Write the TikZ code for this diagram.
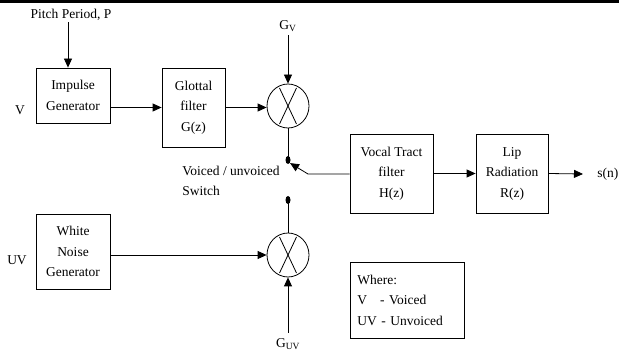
\documentclass[tikz,border=0pt]{standalone}
\usepackage{fontspec}
\setmainfont{Liberation Serif}
\usetikzlibrary{arrows.meta}
\usetikzlibrary{shapes.geometric}

\tikzset{
  arr/.style={-{Triangle[length=9pt,width=8pt]}},
  blk/.style={draw, align=center, inner sep=0pt},
  mixer/.style={draw, ellipse, minimum width=42pt, minimum height=44pt, inner sep=0pt,
    path picture={
      \draw (path picture bounding box.center) ++(-8.5,-18) -- ++(17,36);
      \draw (path picture bounding box.center) ++(8.5,-18) -- ++(-17,36);
    }},
  swdot/.style={fill, ellipse, minimum width=5pt, minimum height=8pt, inner sep=0pt},
  lbl/.style={inner sep=1pt}
}

\begin{document}
\begin{tikzpicture}[x=1pt, y=-1pt, line width=0.8pt,
  every node/.style={font=\fontsize{13.5}{20.5}\selectfont}]
  \useasboundingbox (0,0) rectangle (619,358);

  \draw[line width=3pt] (0,1.5) -- (619,1.5);

  % voiced branch
  \node[lbl] (pitch) at (71,15) {Pitch Period, P};
  \node[blk, minimum width=74pt, minimum height=55pt] (impulse) at (73,95.5) {Impulse\\Generator};
  \node[lbl] (vlbl) at (20,110) {V};
  \node[blk, minimum width=63pt, minimum height=79pt] (glottal) at (193.5,107.5) {Glottal\\filter\\G(z)};
  \node[mixer] (mixv) at (288,106) {};
  \node[lbl] (gv) at (288,26) {G\textsubscript{V}};

  % unvoiced branch
  \node[blk, minimum width=74pt, minimum height=75pt] (noise) at (73,251.5) {White\\Noise\\Generator};
  \node[lbl] (uvlbl) at (17,260) {UV};
  \node[mixer] (mixuv) at (288,255) {};
  \node[lbl] (guv) at (288,344) {G\textsubscript{UV}};

  % switch
  \node[swdot] (swv) at (288,160) {};
  \node[swdot] (swuv) at (288,200) {};
  \node[lbl, align=left, anchor=west] (swlbl) at (181,181) {Voiced / unvoiced\\Switch};
  \coordinate (pivot) at (308,174);

  % vocal tract and lips
  \node[blk, minimum width=83pt, minimum height=79pt] (vocal) at (391.5,173.5) {Vocal Tract\\filter\\H(z)};
  \node[blk, minimum width=72pt, minimum height=79pt] (lip) at (512,173.5) {Lip\\Radiation\\R(z)};
  \node[anchor=west, inner xsep=14pt] (sn) at (583,174) {s(n)};

  \node[blk, anchor=north west, minimum width=114pt, minimum height=76pt,
    text width=100pt, align=left, inner xsep=7pt] (where) at (350,262)
    {Where:\\V\hspace{13pt}- Voiced\\UV - Unvoiced};

  % connectors
  \draw[arr] ([xshift=-5pt]impulse.north |- pitch.south) -- ([xshift=-5pt]impulse.north);
  \draw[arr] (impulse.east |- glottal) -- (glottal.west);
  \draw[arr] (glottal.east) -- (glottal.east -| mixv.west);
  \draw[arr] ([yshift=-2pt]gv.south) -- (mixv.north);
  \draw (mixv.south) -- (swv.center);
  \draw[arr] (vocal.west |- pivot) -- (pivot) -- (swv.south east);
  \draw (swuv.center) -- (mixuv.north);
  \draw[arr] (noise.east |- mixuv) -- (mixuv.west);
  \draw[arr] ([yshift=4pt]guv.north) -- (mixuv.south);
  \draw[arr] (vocal.east) -- (lip.west);
  \draw[arr] (lip.east) -- (sn.west);
\end{tikzpicture}
\end{document}
